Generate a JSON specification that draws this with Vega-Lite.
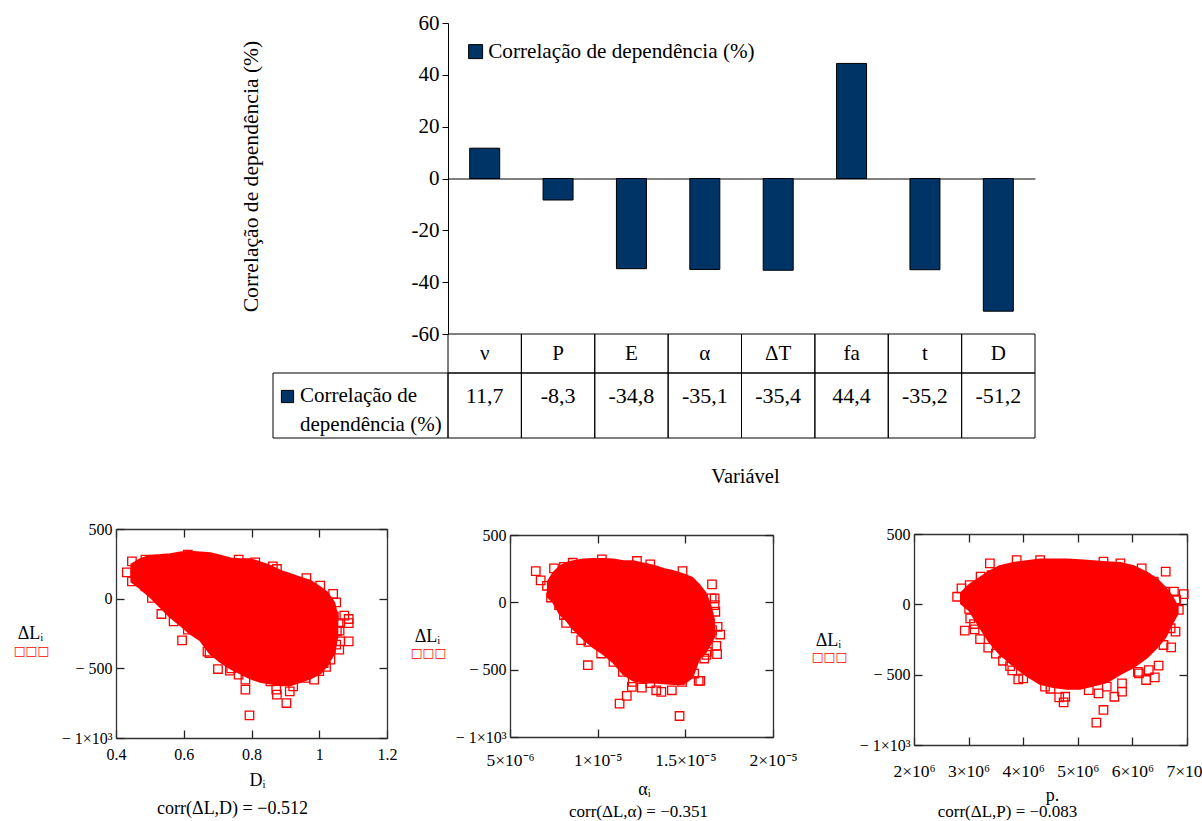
{"$schema":"https://vega.github.io/schema/vega-lite/v6.json","width":1202,"height":821,"padding":0,"autosize":"none","background":"white",
"config":{"view":{"stroke":null},"axis":{"grid":false,"labelFont":"Liberation Serif","titleFont":"Liberation Serif","labelColor":"#000","titleColor":"#000","titleFontWeight":"normal","labelOverlap":false,"labelFlush":false,"labelBound":false,"labelLimit":400,"titleLimit":800},"legend":{"labelFont":"Liberation Serif"},"text":{"font":"Liberation Serif","color":"#000"}},
"datasets":{
"barras":[{"variavel":"ν","correlacao":11.7,"rotulo":"11,7","serie":"Correlação de dependência (%)"},{"variavel":"P","correlacao":-8.3,"rotulo":"-8,3","serie":"Correlação de dependência (%)"},{"variavel":"E","correlacao":-34.8,"rotulo":"-34,8","serie":"Correlação de dependência (%)"},{"variavel":"α","correlacao":-35.1,"rotulo":"-35,1","serie":"Correlação de dependência (%)"},{"variavel":"ΔT","correlacao":-35.4,"rotulo":"-35,4","serie":"Correlação de dependência (%)"},{"variavel":"fa","correlacao":44.4,"rotulo":"44,4","serie":"Correlação de dependência (%)"},{"variavel":"t","correlacao":-35.2,"rotulo":"-35,2","serie":"Correlação de dependência (%)"},{"variavel":"D","correlacao":-51.2,"rotulo":"-51,2","serie":"Correlação de dependência (%)"}],
"cabecalho":[{"variavel":"ν","linha":"Variável"},{"variavel":"P","linha":"Variável"},{"variavel":"E","linha":"Variável"},{"variavel":"α","linha":"Variável"},{"variavel":"ΔT","linha":"Variável"},{"variavel":"fa","linha":"Variável"},{"variavel":"t","linha":"Variável"},{"variavel":"D","linha":"Variável"}],
"envD":[{"x":0.447,"t":244,"b":124},{"x":0.472,"t":280,"b":77},{"x":0.501,"t":304,"b":17},{"x":0.531,"t":309,"b":-55},{"x":0.56,"t":316,"b":-127},{"x":0.59,"t":328,"b":-186},{"x":0.619,"t":333,"b":-246},{"x":0.649,"t":328,"b":-294},{"x":0.678,"t":323,"b":-390},{"x":0.708,"t":304,"b":-450},{"x":0.738,"t":285,"b":-497},{"x":0.767,"t":280,"b":-533},{"x":0.797,"t":280,"b":-569},{"x":0.826,"t":256,"b":-593},{"x":0.856,"t":232,"b":-605},{"x":0.885,"t":196,"b":-617},{"x":0.915,"t":172,"b":-617},{"x":0.944,"t":148,"b":-593},{"x":0.974,"t":124,"b":-569},{"x":1.003,"t":77,"b":-533},{"x":1.023,"t":41,"b":-473},{"x":1.043,"t":-31,"b":-390},{"x":1.052,"t":-127,"b":-270}],
"ptsD":[{"x":0.432,"y":189},{"x":0.447,"y":268},{"x":0.447,"y":124},{"x":0.487,"y":280},{"x":0.487,"y":89},{"x":0.506,"y":5},{"x":0.534,"y":-110},{"x":0.57,"y":-163},{"x":0.595,"y":-299},{"x":0.612,"y":-222},{"x":0.612,"y":316},{"x":0.676,"y":-390},{"x":0.701,"y":-505},{"x":0.736,"y":-517},{"x":0.762,"y":-545},{"x":0.782,"y":-581},{"x":0.782,"y":-653},{"x":0.794,"y":-837},{"x":0.856,"y":-593},{"x":0.873,"y":-653},{"x":0.875,"y":-689},{"x":0.903,"y":-749},{"x":0.913,"y":-665},{"x":0.923,"y":-629},{"x":0.985,"y":-581},{"x":0.959,"y":-569},{"x":1.013,"y":-462},{"x":1.033,"y":-438},{"x":1.059,"y":-366},{"x":1.087,"y":-306},{"x":1.087,"y":-175},{"x":1.087,"y":-146},{"x":1.074,"y":-122},{"x":1.057,"y":-175},{"x":1.052,"y":-234},{"x":1.05,"y":-26},{"x":1.041,"y":34},{"x":1.003,"y":93},{"x":0.962,"y":148},{"x":0.863,"y":232},{"x":0.875,"y":213},{"x":0.811,"y":261},{"x":0.762,"y":280},{"x":1.062,"y":-306},{"x":1.043,"y":-127},{"x":1.0,"y":-520},{"x":1.02,"y":-490},{"x":1.05,"y":-330},{"x":1.06,"y":-230},{"x":0.74,"y":-500},{"x":0.67,"y":-380}],
"envA":[{"x":7.19e-6,"t":153,"b":41},{"x":7.48e-6,"t":215,"b":4},{"x":7.86e-6,"t":264,"b":-83},{"x":8.24e-6,"t":289,"b":-132},{"x":8.62e-6,"t":302,"b":-194},{"x":9.19e-6,"t":314,"b":-268},{"x":9.76e-6,"t":319,"b":-330},{"x":1.033e-5,"t":319,"b":-380},{"x":1.09e-5,"t":314,"b":-442},{"x":1.147e-5,"t":302,"b":-529},{"x":1.204e-5,"t":302,"b":-578},{"x":1.262e-5,"t":284,"b":-591},{"x":1.319e-5,"t":269,"b":-591},{"x":1.376e-5,"t":245,"b":-598},{"x":1.433e-5,"t":227,"b":-603},{"x":1.49e-5,"t":203,"b":-603},{"x":1.538e-5,"t":178,"b":-554},{"x":1.576e-5,"t":128,"b":-417},{"x":1.614e-5,"t":66,"b":-368},{"x":1.642e-5,"t":-33,"b":-306},{"x":1.661e-5,"t":-132,"b":-256}],
"ptsA":[{"x":6.47e-6,"y":232},{"x":6.75e-6,"y":163},{"x":7.11e-6,"y":123},{"x":7.34e-6,"y":36},{"x":7.51e-6,"y":252},{"x":8.08e-6,"y":264},{"x":8.58e-6,"y":294},{"x":8.08e-6,"y":-95},{"x":8.2e-6,"y":-152},{"x":8.75e-6,"y":-194},{"x":9.06e-6,"y":-281},{"x":9.47e-6,"y":-293},{"x":9.44e-6,"y":-467},{"x":1.024e-5,"y":319},{"x":1.02e-5,"y":-380},{"x":1.09e-5,"y":-442},{"x":1.144e-5,"y":-516},{"x":1.125e-5,"y":-752},{"x":1.166e-5,"y":-695},{"x":1.195e-5,"y":-628},{"x":1.252e-5,"y":-633},{"x":1.224e-5,"y":307},{"x":1.3e-5,"y":282},{"x":1.334e-5,"y":-653},{"x":1.363e-5,"y":-665},{"x":1.423e-5,"y":-653},{"x":1.484e-5,"y":232},{"x":1.467e-5,"y":-844},{"x":1.481e-5,"y":-591},{"x":1.576e-5,"y":-583},{"x":1.585e-5,"y":-583},{"x":1.608e-5,"y":-417},{"x":1.652e-5,"y":133},{"x":1.667e-5,"y":29},{"x":1.667e-5,"y":-21},{"x":1.671e-5,"y":-70},{"x":1.684e-5,"y":-182},{"x":1.699e-5,"y":-239},{"x":1.677e-5,"y":-323},{"x":1.681e-5,"y":-385},{"x":1.623e-5,"y":-368},{"x":1.652e-5,"y":-207},{"x":1.62e-5,"y":-390},{"x":1.55e-5,"y":-530},{"x":1.2e-5,"y":-590},{"x":1.3e-5,"y":-600},{"x":1.65e-5,"y":30},{"x":7.8e-6,"y":-20}],
"envP":[{"x":2870000,"t":78,"b":7},{"x":3020000,"t":137,"b":-40},{"x":3210000,"t":185,"b":-159},{"x":3390000,"t":232,"b":-266},{"x":3570000,"t":268,"b":-348},{"x":3820000,"t":291,"b":-431},{"x":4060000,"t":303,"b":-503},{"x":4310000,"t":315,"b":-562},{"x":4550000,"t":315,"b":-585},{"x":4800000,"t":315,"b":-597},{"x":5040000,"t":310,"b":-597},{"x":5290000,"t":303,"b":-574},{"x":5530000,"t":296,"b":-550},{"x":5780000,"t":291,"b":-491},{"x":6020000,"t":268,"b":-443},{"x":6270000,"t":220,"b":-372},{"x":6450000,"t":173,"b":-301},{"x":6600000,"t":114,"b":-230},{"x":6720000,"t":54,"b":-135},{"x":6820000,"t":-17,"b":-64}],
"ptsP":[{"x":2790000,"y":54},{"x":2870000,"y":114},{"x":3020000,"y":137},{"x":3010000,"y":-33},{"x":3030000,"y":-100},{"x":2930000,"y":-187},{"x":3110000,"y":-178},{"x":3210000,"y":-247},{"x":3220000,"y":197},{"x":3390000,"y":291},{"x":3420000,"y":208},{"x":3360000,"y":-308},{"x":3630000,"y":-401},{"x":3760000,"y":-439},{"x":3910000,"y":-533},{"x":4000000,"y":-526},{"x":3880000,"y":315},{"x":4310000,"y":315},{"x":4400000,"y":-585},{"x":4660000,"y":-661},{"x":4740000,"y":-697},{"x":4770000,"y":-657},{"x":5340000,"y":-841},{"x":5470000,"y":-751},{"x":5380000,"y":-633},{"x":5530000,"y":-585},{"x":5670000,"y":-657},{"x":5810000,"y":-562},{"x":5810000,"y":-621},{"x":6120000,"y":-491},{"x":6250000,"y":-538},{"x":6300000,"y":-467},{"x":6410000,"y":-519},{"x":6480000,"y":-436},{"x":6710000,"y":-306},{"x":6570000,"y":-289},{"x":6790000,"y":-194},{"x":6610000,"y":232},{"x":6170000,"y":256},{"x":6590000,"y":90},{"x":6760000,"y":90},{"x":6940000,"y":73},{"x":6850000,"y":-40},{"x":6790000,"y":35},{"x":6390000,"y":161},{"x":5780000,"y":291},{"x":5470000,"y":303},{"x":3100000,"y":-140},{"x":3500000,"y":-350},{"x":3800000,"y":-470},{"x":6100000,"y":-480},{"x":6700000,"y":-170},{"x":6800000,"y":30},{"x":4500000,"y":-600},{"x":5200000,"y":-610}]
},
"resolve":{"scale":{"x":"independent","y":"independent","color":"independent"},"axis":{"x":"independent","y":"independent"},"legend":{"color":"independent"}},
"layer":[
{"data":{"name":"barras"},"mark":{"type":"bar","size":30,"stroke":"#000","strokeWidth":1},
"encoding":{
"x":{"field":"variavel","type":"nominal","sort":null,"scale":{"type":"band","domain":["ν","P","E","α","ΔT","fa","t","D"],"range":[448,1035],"padding":0},"axis":{"orient":"bottom","offset":-642.5,"labels":false,"ticks":false,"domain":true,"domainColor":"#000","title":null}},
"y":{"field":"correlacao","type":"quantitative","scale":{"domain":[-60,60],"range":[334,23],"nice":false,"zero":false},"axis":{"orient":"left","offset":-448,"values":[-60,-40,-20,0,20,40,60],"labelExpr":"''+datum.value","domainColor":"#000","tickColor":"#000","tickSize":6,"labelFontSize":21,"labelPadding":3,"title":"Correlação de dependência (%)","titleFontSize":21.6,"titleAngle":-90,"titleX":-191,"titleY":176,"titleAlign":"center","titleBaseline":"alphabetic"}},
"color":{"field":"serie","type":"nominal","scale":{"domain":["Correlação de dependência (%)"],"range":["#003366"]},"legend":{"orient":"none","legendX":465,"legendY":41,"title":null,"symbolType":"square","symbolSize":196,"symbolStrokeColor":"#000","symbolStrokeWidth":1,"labelFontSize":21.2,"labelColor":"#000","labelOffset":2,"labelLimit":400}}}},
{"data":{"name":"cabecalho"},"layer":[
{"mark":{"type":"rect","fill":null,"stroke":"#000","strokeWidth":1},"encoding":{"x":{"field":"variavel","type":"nominal","sort":null,"scale":{"type":"band","domain":["ν","P","E","α","ΔT","fa","t","D"],"range":[448,1035],"padding":0},"axis":null},"y":{"field":"linha","type":"nominal","scale":{"type":"band","domain":["Variável"],"range":[334,373],"padding":0},"axis":null}}},
{"mark":{"type":"text","fontSize":21},"encoding":{"x":{"field":"variavel","type":"nominal","sort":null,"scale":{"type":"band","domain":["ν","P","E","α","ΔT","fa","t","D"],"range":[448,1035],"padding":0},"axis":null},"y":{"field":"linha","type":"nominal","scale":{"type":"band","domain":["Variável"],"range":[334,373],"padding":0},"axis":null},"text":{"field":"variavel"}}}]},
{"data":{"name":"barras"},"resolve":{"axis":{"x":"independent","y":"independent"}},"layer":[
{"mark":{"type":"rect","fill":null,"stroke":"#000","strokeWidth":1},"encoding":{"x":{"field":"variavel","type":"nominal","sort":null,"scale":{"type":"band","domain":["ν","P","E","α","ΔT","fa","t","D"],"range":[448,1035],"padding":0},"axis":{"orient":"bottom","offset":-383,"labels":false,"ticks":false,"domain":false,"title":"Variável","titleFontSize":20.5,"titleX":745,"titleY":44,"titleAlign":"center","titleBaseline":"alphabetic"}},"y":{"field":"serie","type":"nominal","scale":{"type":"band","domain":["Correlação de dependência (%)"],"range":[373,438],"padding":0},"axis":null}}},
{"mark":{"type":"text","fontSize":22,"dy":-10},"encoding":{"x":{"field":"variavel","type":"nominal","sort":null,"scale":{"type":"band","domain":["ν","P","E","α","ΔT","fa","t","D"],"range":[448,1035],"padding":0},"axis":null},"y":{"field":"serie","type":"nominal","scale":{"type":"band","domain":["Correlação de dependência (%)"],"range":[373,438],"padding":0},"axis":null},"text":{"field":"rotulo"}}}]},
{"data":{"values":[{"celula":"Correlação de dependência (%)"}]},"mark":{"type":"rect","fill":null,"stroke":"#000","strokeWidth":1},"encoding":{"x":{"field":"celula","type":"nominal","scale":{"type":"band","range":[273,448],"padding":0},"axis":null},"y":{"field":"celula","type":"nominal","scale":{"type":"band","range":[373,438],"padding":0},"axis":null}}},
{"data":{"values":[{"col":"s","linha":"1"}]},"mark":{"type":"point","shape":"square","filled":true,"size":150,"color":"#003366","stroke":"#000","strokeWidth":1,"opacity":1},"encoding":{"x":{"field":"col","type":"nominal","scale":{"type":"point","range":[287.5,287.5],"padding":0},"axis":null},"y":{"field":"linha","type":"nominal","scale":{"type":"point","range":[396.5,396.5],"padding":0},"axis":null}}},
{"data":{"values":[{"col":"t","linha":"1","rotulo":"Correlação de"},{"col":"t","linha":"2","rotulo":"dependência (%)"}]},"mark":{"type":"text","fontSize":21,"align":"left"},"encoding":{"x":{"field":"col","type":"nominal","scale":{"type":"point","range":[300,300],"padding":0},"axis":null},"y":{"field":"linha","type":"nominal","scale":{"type":"point","domain":["1","2"],"range":[396,425],"padding":0},"axis":null},"text":{"field":"rotulo"}}},
{"resolve":{"axis":{"x":"independent","y":"independent"}},"layer":[
{"data":{"name":"envD"},"mark":{"type":"area","color":"#ff0000","stroke":"#ff0000","strokeWidth":3,"opacity":1},"encoding":{
"x":{"field":"x","type":"quantitative","scale":{"domain":[0.4,1.2],"range":[116,387],"nice":false,"zero":false},"axis":{"orient":"bottom","offset":-83,"values":[0.4,0.6,0.8,1,1.2],"labelExpr":"datum.value==1?'1':format(datum.value,'.1f')","labelFontSize":16,"tickSize":-8,"tickWidth":1.3,"tickColor":"#222","domainColor":"#333","domainWidth":1.3,"labelPadding":16,"title":"Dᵢ","titleFontSize":18,"titleX":257,"titleY":47,"titleAlign":"center","titleBaseline":"alphabetic"}},
"y":{"field":"t","type":"quantitative","scale":{"domain":[-1000,500],"range":[738,529],"nice":false,"zero":false},"axis":{"orient":"left","offset":-116,"values":[-1000,-500,0,500],"labelExpr":"datum.value==-1000?'− 1×10³':datum.value==-500?'− 500':datum.value==0?'0':'500'","labelFontSize":16,"tickSize":-8,"tickWidth":1.3,"tickColor":"#222","domainColor":"#333","domainWidth":1.3,"labelPadding":12,"title":"ΔLᵢ","titleFontSize":18,"titleAngle":0,"titleX":-86,"titleY":638,"titleAlign":"center","titleBaseline":"alphabetic"}},
"y2":{"field":"b"}}},
{"data":{"name":"ptsD"},"mark":{"type":"point","shape":"square","filled":false,"size":72,"color":"#ff0000","strokeWidth":1.3,"opacity":1},"encoding":{
"x":{"field":"x","type":"quantitative","scale":{"domain":[0.4,1.2],"range":[116,387],"nice":false,"zero":false},"axis":{"orient":"top","offset":-529,"values":[0.4,0.6,0.8,1,1.2],"labels":false,"tickSize":-8,"tickWidth":1.3,"tickColor":"#222","domainColor":"#333","domainWidth":1.3,"title":"corr(ΔL,D) = −0.512","titleFontSize":18,"titleX":232,"titleY":284,"titleAlign":"center","titleBaseline":"alphabetic"}},
"y":{"field":"y","type":"quantitative","scale":{"domain":[-1000,500],"range":[738,529],"nice":false,"zero":false},"axis":{"orient":"right","offset":-815,"values":[-1000,-500,0,500],"labels":false,"tickSize":-8,"tickWidth":1.3,"tickColor":"#222","domainColor":"#333","domainWidth":1.3,"title":"□□□","titleColor":"#ff0000","titleFont":"DejaVu Sans","titleFontSize":12.5,"titleAngle":0,"titleX":-356,"titleY":654,"titleAlign":"center","titleBaseline":"alphabetic"}}}}]},
{"resolve":{"axis":{"x":"independent","y":"independent"}},"layer":[
{"data":{"name":"envA"},"mark":{"type":"area","color":"#ff0000","stroke":"#ff0000","strokeWidth":3,"opacity":1},"encoding":{
"x":{"field":"x","type":"quantitative","scale":{"domain":[5e-6,2e-5],"range":[510,773],"nice":false,"zero":false},"axis":{"orient":"bottom","offset":-84,"values":[5e-6,1e-5,1.5e-5,2e-5],"labelExpr":"datum.value<0.6e-5?'5×10⁻⁶':datum.value<1.2e-5?'1×10⁻⁵':datum.value<1.7e-5?'1.5×10⁻⁵':'2×10⁻⁵'","labelFontSize":17.5,"tickSize":-8,"tickWidth":1.3,"tickColor":"#222","domainColor":"#333","domainWidth":1.3,"labelPadding":22,"title":"αᵢ","titleFontSize":18,"titleX":644,"titleY":57,"titleAlign":"center","titleBaseline":"alphabetic"}},
"y":{"field":"t","type":"quantitative","scale":{"domain":[-1000,500],"range":[737,535],"nice":false,"zero":false},"axis":{"orient":"left","offset":-510,"values":[-1000,-500,0,500],"labelExpr":"datum.value==-1000?'− 1×10³':datum.value==-500?'− 500':datum.value==0?'0':'500'","labelFontSize":16,"tickSize":-8,"tickWidth":1.3,"tickColor":"#222","domainColor":"#333","domainWidth":1.3,"labelPadding":12,"title":"ΔLᵢ","titleFontSize":18,"titleAngle":0,"titleX":-83,"titleY":641,"titleAlign":"center","titleBaseline":"alphabetic"}},
"y2":{"field":"b"}}},
{"data":{"name":"ptsA"},"mark":{"type":"point","shape":"square","filled":false,"size":72,"color":"#ff0000","strokeWidth":1.3,"opacity":1},"encoding":{
"x":{"field":"x","type":"quantitative","scale":{"domain":[5e-6,2e-5],"range":[510,773],"nice":false,"zero":false},"axis":{"orient":"top","offset":-535,"values":[5e-6,1e-5,1.5e-5,2e-5],"labels":false,"tickSize":-8,"tickWidth":1.3,"tickColor":"#222","domainColor":"#333","domainWidth":1.3,"title":"corr(ΔL,α) = −0.351","titleFontSize":17,"titleX":638,"titleY":281,"titleAlign":"center","titleBaseline":"alphabetic"}},
"y":{"field":"y","type":"quantitative","scale":{"domain":[-1000,500],"range":[737,535],"nice":false,"zero":false},"axis":{"orient":"right","offset":-429,"values":[-1000,-500,0,500],"labels":false,"tickSize":-8,"tickWidth":1.3,"tickColor":"#222","domainColor":"#333","domainWidth":1.3,"title":"□□□","titleColor":"#ff0000","titleFont":"DejaVu Sans","titleFontSize":12.5,"titleAngle":0,"titleX":-345,"titleY":656,"titleAlign":"center","titleBaseline":"alphabetic"}}}}]},
{"resolve":{"axis":{"x":"independent","y":"independent"}},"layer":[
{"data":{"name":"envP"},"mark":{"type":"area","color":"#ff0000","stroke":"#ff0000","strokeWidth":3,"opacity":1},"encoding":{
"x":{"field":"x","type":"quantitative","scale":{"domain":[2000000,7000000],"range":[914,1187],"nice":false,"zero":false},"axis":{"orient":"bottom","offset":-76,"values":[2000000,3000000,4000000,5000000,6000000,7000000],"labelExpr":"format(datum.value/1000000,'d')+'×10⁶'","labelFontSize":17.5,"tickSize":-8,"tickWidth":1.3,"tickColor":"#222","domainColor":"#333","domainWidth":1.3,"labelPadding":25,"title":"p.","titleFontSize":18,"titleX":1052,"titleY":55,"titleAlign":"center","titleBaseline":"alphabetic"}},
"y":{"field":"t","type":"quantitative","scale":{"domain":[-1000,500],"range":[745,534],"nice":false,"zero":false},"axis":{"orient":"left","offset":-914,"values":[-1000,-500,0,500],"labelExpr":"datum.value==-1000?'− 1×10³':datum.value==-500?'− 500':datum.value==0?'0':'500'","labelFontSize":16,"tickSize":-8,"tickWidth":1.3,"tickColor":"#222","domainColor":"#333","domainWidth":1.3,"labelPadding":12,"title":"ΔLᵢ","titleFontSize":18,"titleAngle":0,"titleX":-86,"titleY":645,"titleAlign":"center","titleBaseline":"alphabetic"}},
"y2":{"field":"b"}}},
{"data":{"name":"ptsP"},"mark":{"type":"point","shape":"square","filled":false,"size":72,"color":"#ff0000","strokeWidth":1.3,"opacity":1},"encoding":{
"x":{"field":"x","type":"quantitative","scale":{"domain":[2000000,7000000],"range":[914,1187],"nice":false,"zero":false},"axis":{"orient":"top","offset":-534,"values":[2000000,3000000,4000000,5000000,6000000,7000000],"labels":false,"tickSize":-8,"tickWidth":1.3,"tickColor":"#222","domainColor":"#333","domainWidth":1.3,"title":"corr(ΔL,P) = −0.083","titleFontSize":17,"titleX":1007,"titleY":282,"titleAlign":"center","titleBaseline":"alphabetic"}},
"y":{"field":"y","type":"quantitative","scale":{"domain":[-1000,500],"range":[745,534],"nice":false,"zero":false},"axis":{"orient":"right","offset":-15,"values":[-1000,-500,0,500],"labels":false,"tickSize":-8,"tickWidth":1.3,"tickColor":"#222","domainColor":"#333","domainWidth":1.3,"title":"□□□","titleColor":"#ff0000","titleFont":"DejaVu Sans","titleFontSize":12.5,"titleAngle":0,"titleX":-358,"titleY":660,"titleAlign":"center","titleBaseline":"alphabetic"}}}}]}
]}
